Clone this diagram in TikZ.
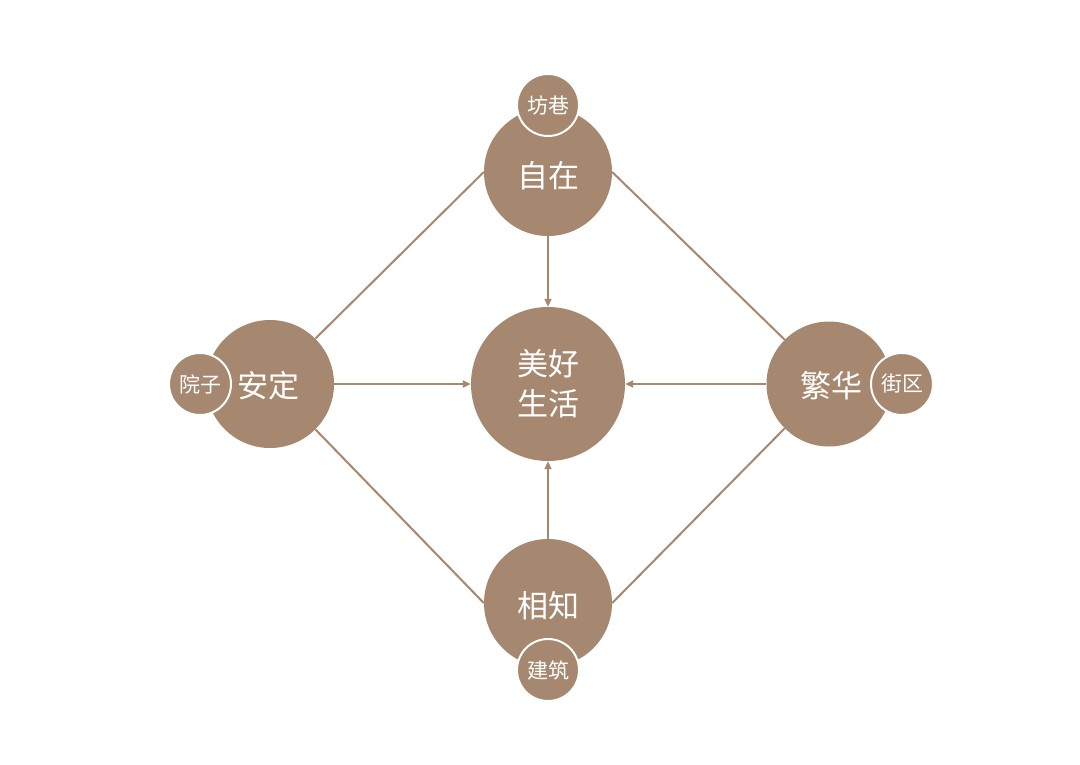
\documentclass[tikz,border=0pt]{standalone}
\usepackage{fontspec}
\setmainfont{Noto Sans CJK SC}
\usetikzlibrary{arrows.meta}
\definecolor{brn}{RGB}{165,136,111}
\begin{document}
\begin{tikzpicture}[x=1pt,y=-1pt,
  big/.style={circle,fill=brn,inner sep=0pt,minimum size=#1,text=white},
  bigc/.style={big=128pt,font=\fontsize{31}{40}\selectfont},
  tag/.style={circle,fill=brn,draw=white,line width=2pt,inner sep=0pt,minimum size=62pt,text=white,font=\fontsize{21}{24}\selectfont},
  link/.style={draw=brn,line width=2pt},
  arr/.style={link,-{Triangle[length=8pt,width=7pt]}}]
\useasboundingbox (0,0) rectangle (1080,764);
\fill[white] (0,0) rectangle (1080,764);
\node[big=154pt,font=\fontsize{31}{40}\selectfont,align=center] (c) at (548,384) {美好\\生活};
\node[bigc] (t) at (548,172) {};
\node[bigc] (l) at (270,384) {};
\node[bigc,minimum size=125pt] (r) at (829,384) {};
\node[bigc] (b) at (548,603) {};
\draw[link] (t.west) -- (l.north east);
\draw[link] (t.east) -- (r.north west);
\draw[link] (l.south east) -- (b.west);
\draw[link] (r.south west) -- (b.east);
\draw[arr] (t.south) -- (c.north);
\draw[arr] (l.east) -- (c.west);
\draw[arr] (r.west) -- (c.east);
\draw[arr] (b.north) -- (c.south);
\node[tag] (ts) at (548,105) {坊巷};
\node[tag] (ls) at (200,384) {院子};
\node[tag] (rs) at (902,384) {街区};
\node[tag] (bs) at (548,670) {建筑};
\node[text=white,font=\fontsize{31}{40}\selectfont] (tt) at (548,176) {自在};
\node[text=white,font=\fontsize{31}{40}\selectfont] (lt) at (268,386) {安定};
\node[text=white,font=\fontsize{31}{40}\selectfont] (rt) at (831,386) {繁华};
\node[text=white,font=\fontsize{31}{40}\selectfont] (bt) at (548,606) {相知};
\end{tikzpicture}
\end{document}
